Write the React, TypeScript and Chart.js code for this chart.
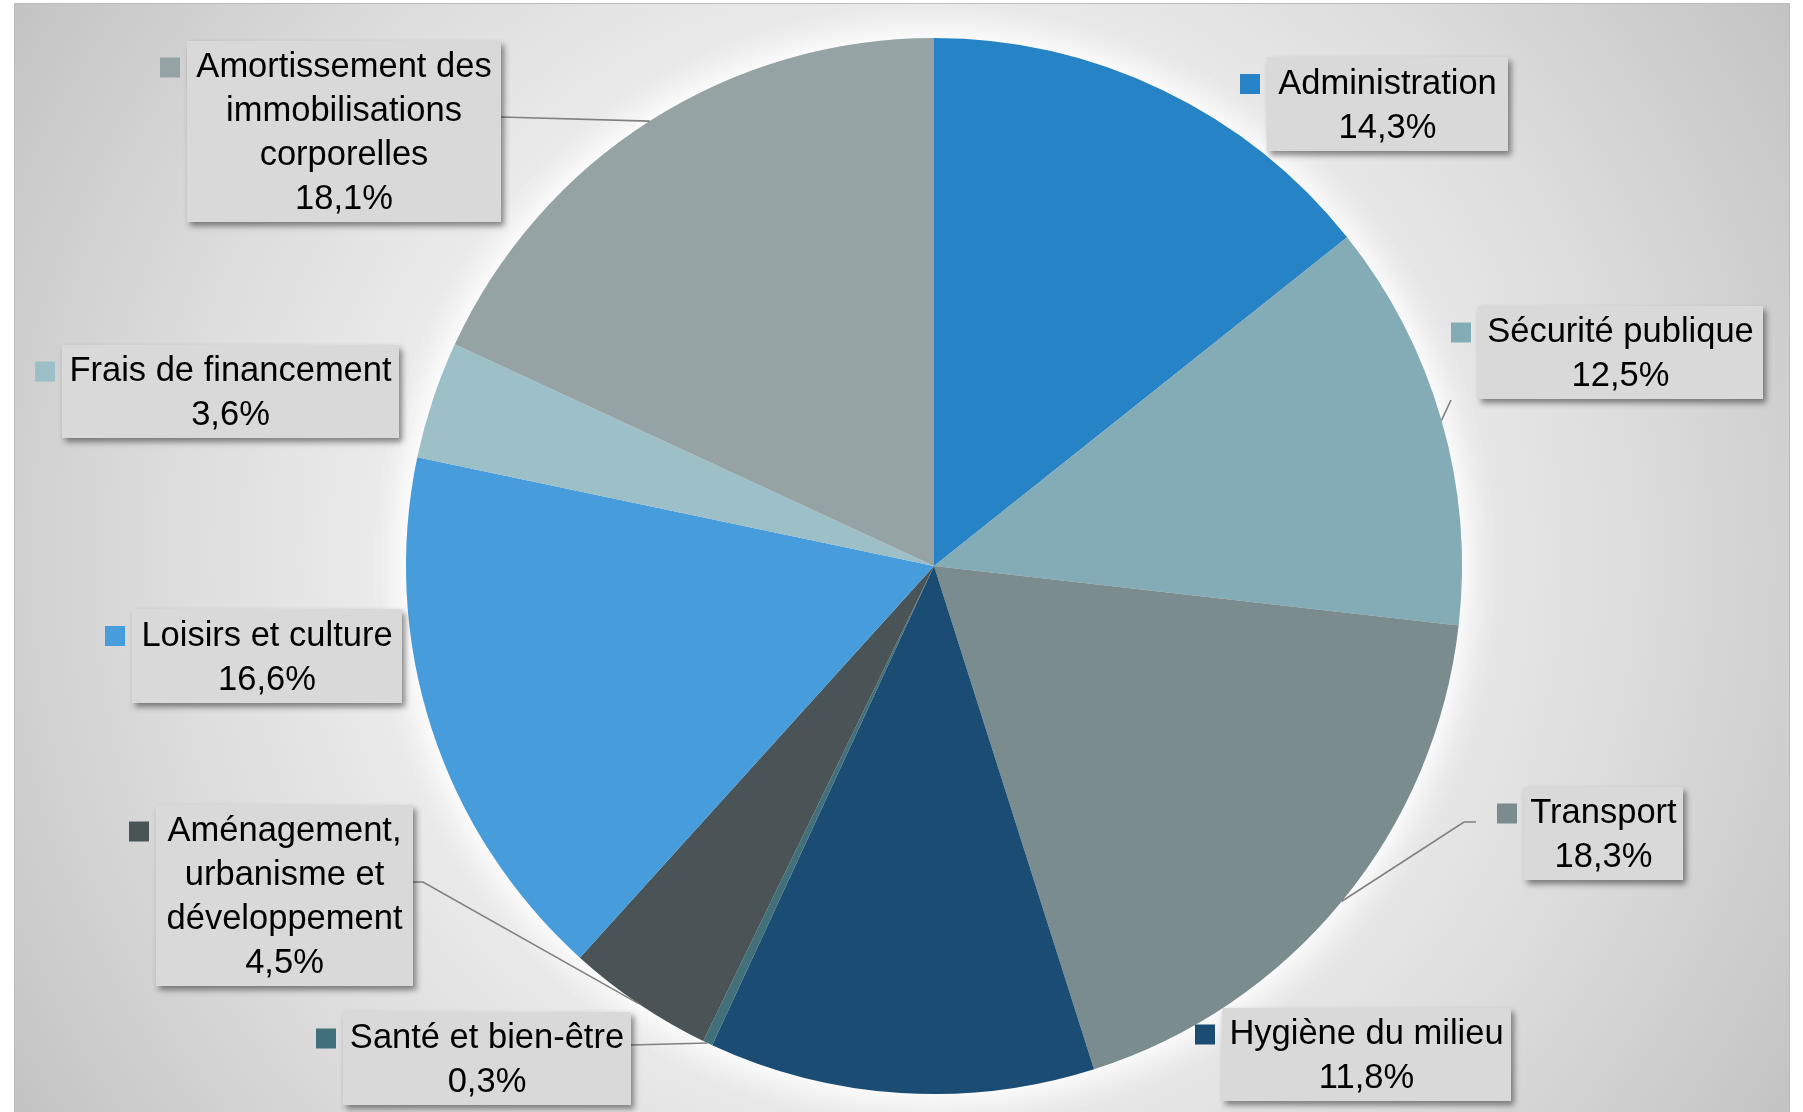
import React, { useEffect, useRef } from 'react';
import { Chart, registerables } from 'chart.js';

Chart.register(...registerables);

// ---------- DATA ----------
const categories = [
  'Administration',
  'Sécurité publique',
  'Transport',
  'Hygiène du milieu',
  'Santé et bien-être',
  'Aménagement, urbanisme et développement',
  'Loisirs et culture',
  'Frais de financement',
  'Amortissement des immobilisations corporelles',
];
const values = [14.3, 12.5, 18.3, 11.8, 0.3, 4.5, 16.6, 3.6, 18.1];
const labelLines = [
  ['Administration'],
  ['Sécurité publique'],
  ['Transport'],
  ['Hygiène du milieu'],
  ['Santé et bien-être'],
  ['Aménagement,', 'urbanisme et', 'développement'],
  ['Loisirs et culture'],
  ['Frais de financement'],
  ['Amortissement des', 'immobilisations', 'corporelles'],
];

// ---------- STYLE / LAYOUT ----------
const sliceColors = ['#2683C6', '#84ACB6', '#7A8C8E', '#1A4C74', '#42707A', '#4A5456', '#479DDC', '#9DBFC8', '#95A3A4'];
const W = 1803;
const H = 1112;
const PANEL = { x: 14, y: 3, w: 1776, h: 1109 };
const FONT = '34.5px "Liberation Sans", Arial, sans-serif';
const LINE_H = 44;

type Box = { x: number; y: number; w: number; h: number; leader?: [number, number][] };
const labelBoxes: Box[] = [
  { x: 1267, y: 57, w: 241, h: 94 },
  { x: 1478, y: 306, w: 285, h: 93, leader: [[1451, 400]] },
  { x: 1524, y: 787, w: 159, h: 93, leader: [[1464, 822], [1476, 822]] },
  { x: 1222, y: 1008, w: 289, h: 93 },
  { x: 343, y: 1012, w: 288, h: 93, leader: [[631, 1045]] },
  { x: 156, y: 805, w: 257, h: 181, leader: [[423, 882], [413, 882]] },
  { x: 132, y: 609, w: 270, h: 94 },
  { x: 62, y: 345, w: 337, h: 93 },
  { x: 187, y: 41, w: 314, h: 181, leader: [[501, 117]] },
];

const fmtPct = (v: number) => v.toFixed(1).replace('.', ',') + '%';

const backgroundPlugin = {
  id: 'panelBackground',
  beforeDraw(chart: any) {
    const ctx: CanvasRenderingContext2D = chart.ctx;
    ctx.save();
    ctx.fillStyle = '#ffffff';
    ctx.fillRect(0, 0, W, H);
    const cx = PANEL.x + PANEL.w / 2;
    const cy = PANEL.y + PANEL.h / 2;
    const g = ctx.createRadialGradient(cx, cy, 0, cx, cy, 1060);
    g.addColorStop(0, '#f4f4f4');
    g.addColorStop(0.45, '#eeeeee');
    g.addColorStop(0.7, '#dcdcdc');
    g.addColorStop(1, '#c2c2c2');
    ctx.fillStyle = g;
    ctx.fillRect(PANEL.x, PANEL.y, PANEL.w, PANEL.h);
    ctx.strokeStyle = '#bcbcbc';
    ctx.lineWidth = 1;
    ctx.strokeRect(PANEL.x + 0.5, PANEL.y + 0.5, PANEL.w - 1, PANEL.h);
    ctx.restore();
  },
  beforeDatasetsDraw(chart: any) {
    const meta = chart.getDatasetMeta(0);
    const arc = meta.data[0];
    if (!arc) return;
    const { x, y, outerRadius } = arc.getProps(['x', 'y', 'outerRadius'], true);
    const ctx: CanvasRenderingContext2D = chart.ctx;
    ctx.save();
    ctx.shadowColor = 'rgba(255,255,255,1)';
    ctx.shadowBlur = 40;
    ctx.fillStyle = '#f0f0f0';
    for (let k = 0; k < 2; k++) {
      ctx.beginPath();
      ctx.arc(x, y, outerRadius, 0, Math.PI * 2);
      ctx.fill();
    }
    ctx.restore();
  },
};

const labelsPlugin = {
  id: 'calloutLabels',
  afterDatasetsDraw(chart: any) {
    const ctx: CanvasRenderingContext2D = chart.ctx;
    const meta = chart.getDatasetMeta(0);
    ctx.save();
    ctx.font = FONT;
    ctx.textAlign = 'center';
    ctx.textBaseline = 'middle';
    meta.data.forEach((el: any, i: number) => {
      const box = labelBoxes[i];
      if (!box) return;
      const p = el.getProps(['x', 'y', 'startAngle', 'endAngle', 'outerRadius'], true);
      const mid = (p.startAngle + p.endAngle) / 2;
      const ax = p.x + Math.cos(mid) * p.outerRadius;
      const ay = p.y + Math.sin(mid) * p.outerRadius;
      if (box.leader) {
        ctx.save();
        ctx.strokeStyle = '#808080';
        ctx.lineWidth = 1.6;
        ctx.beginPath();
        ctx.moveTo(ax, ay);
        box.leader.forEach(([lx, ly]) => ctx.lineTo(lx, ly));
        ctx.stroke();
        ctx.restore();
      }
    });
    meta.data.forEach((el: any, i: number) => {
      const box = labelBoxes[i];
      if (!box) return;
      const lines = [...labelLines[i], fmtPct(values[i])];
      // box with shadow
      ctx.save();
      ctx.shadowColor = 'rgba(0,0,0,0.45)';
      ctx.shadowBlur = 6;
      ctx.shadowOffsetX = 3;
      ctx.shadowOffsetY = 4;
      ctx.fillStyle = '#d9d9d9';
      ctx.fillRect(box.x, box.y, box.w, box.h);
      ctx.restore();
      const cx = box.x + box.w / 2;
      const firstY = box.y + box.h / 2 - ((lines.length - 1) / 2) * LINE_H + 2;
      ctx.fillStyle = '#000000';
      lines.forEach((t, k) => ctx.fillText(t, cx, firstY + k * LINE_H));
      // legend key
      ctx.fillStyle = sliceColors[i];
      ctx.fillRect(box.x - 27, firstY - 10, 20, 20);
    });
    ctx.restore();
  },
};

export default function App() {
  const ref = useRef<HTMLCanvasElement | null>(null);
  useEffect(() => {
    document.body.style.margin = '0';
    document.body.style.overflow = 'hidden';
    if (!ref.current) return;
    const chart = new Chart(ref.current, {
      type: 'pie',
      data: {
        labels: categories,
        datasets: [
          {
            data: values,
            backgroundColor: sliceColors,
            borderWidth: 0,
          },
        ],
      },
      options: {
        responsive: false,
        animation: false,
        devicePixelRatio: 1,
        layout: { padding: { left: 400, right: 335, top: 38, bottom: 18 } },
        plugins: {
          legend: { display: false },
          tooltip: { enabled: false },
          title: { display: false },
        },
      },
      plugins: [backgroundPlugin, labelsPlugin],
    });
    return () => chart.destroy();
  }, []);
  return (
    <div style={{ width: W, height: H }}>
      <canvas ref={ref} width={W} height={H} style={{ display: 'block', width: W, height: H }} />
    </div>
  );
}
